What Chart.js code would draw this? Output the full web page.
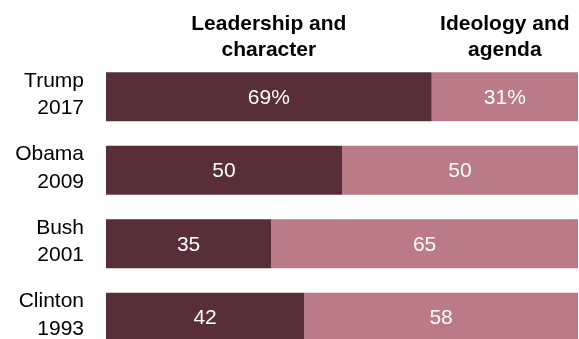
<!DOCTYPE html>
<html>
<head>
<meta charset="utf-8">
<script src="https://cdn.jsdelivr.net/npm/chart.js@4/dist/chart.umd.min.js"></script>
<style>
  html, body { margin: 0; padding: 0; background: #fff; overflow: hidden; }
  #wrap { width: 579px; height: 354px; }
</style>
</head>
<body>
<div id="wrap"><canvas id="reasonsChart" width="579" height="354"></canvas></div>
<script>
// presidents and year of first term
var presidents = [['Trump', '2017'], ['Obama', '2009'], ['Bush', '2001'], ['Clinton', '1993']];
var leadership = [69, 50, 35, 42];
var ideology = [31, 50, 65, 58];
var seriesNames = [['Leadership and', 'character'], ['Ideology and', 'agenda']];
var seriesColors = ['#582E38', '#BA7A86'];

var FONT = "'Liberation Sans', Arial, sans-serif";

// white numbers inside each segment, % on the first row only
var segmentLabels = {
  id: 'segmentLabels',
  afterDatasetsDraw: function(chart) {
    var ctx = chart.ctx;
    ctx.save();
    ctx.fillStyle = '#ffffff';
    ctx.font = '21px ' + FONT;
    ctx.textAlign = 'center';
    ctx.textBaseline = 'middle';
    chart.data.datasets.forEach(function(ds, di) {
      chart.getDatasetMeta(di).data.forEach(function(bar, i) {
        var txt = ds.data[i] + (i === 0 ? '%' : '');
        ctx.fillText(txt, (bar.x + bar.base) / 2, bar.y + 1);
      });
    });
    ctx.restore();
  }
};

// column headings centred over the top bar's segments
var columnHeads = {
  id: 'columnHeads',
  afterDraw: function(chart) {
    var ctx = chart.ctx;
    ctx.save();
    ctx.fillStyle = '#000000';
    ctx.font = 'bold 21px ' + FONT;
    ctx.textAlign = 'center';
    ctx.textBaseline = 'alphabetic';
    seriesNames.forEach(function(lines, di) {
      var bar = chart.getDatasetMeta(di).data[0];
      var cx = (bar.x + bar.base) / 2;
      lines.forEach(function(line, li) {
        ctx.fillText(line, cx, 30 + li * 26);
      });
    });
    ctx.restore();
  }
};

var chartdata = {
  labels: presidents,
  datasets: [
    {
      label: seriesNames[0].join(' '),
      data: leadership,
      backgroundColor: seriesColors[0],
      borderWidth: 0,
      barPercentage: 0.667,
      categoryPercentage: 1
    },
    {
      label: seriesNames[1].join(' '),
      data: ideology,
      backgroundColor: seriesColors[1],
      borderWidth: 0,
      barPercentage: 0.667,
      categoryPercentage: 1
    }
  ]
};

var chartoptions = {
  indexAxis: 'y',
  responsive: false,
  animation: false,
  layout: { padding: { top: 60, right: 1, bottom: 0, left: 0 } },
  plugins: {
    legend: { display: false },
    tooltip: { enabled: false }
  },
  scales: {
    x: {
      stacked: true,
      min: 0,
      max: 100,
      display: false
    },
    y: {
      stacked: true,
      grid: { display: false },
      border: { display: false },
      afterFit: function(scale) {
        // fixed gutter for the names, no extra room for the two-line labels
        scale.width = 106;
        scale.paddingTop = 0;
        scale.paddingBottom = 0;
      },
      ticks: {
        padding: 14,
        labelOffset: -2,
        color: '#000000',
        font: { family: FONT, size: 21, lineHeight: 1.3 }
      }
    }
  }
};

var ctx = document.getElementById('reasonsChart');
new Chart(ctx, {
  type: 'bar',
  data: chartdata,
  options: chartoptions,
  plugins: [segmentLabels, columnHeads]
});
</script>
</body>
</html>
